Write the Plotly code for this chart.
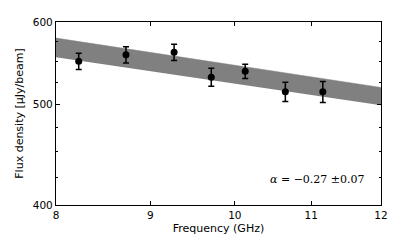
import plotly.graph_objects as go

freq = [8.23, 8.73, 9.27, 9.71, 10.13, 10.65, 11.16]
flux = [550, 558, 561, 531, 538, 514, 514]
flux_err = [10, 10, 10, 10.5, 8.5, 11, 12]

band_freq = [8, 12]
band_upper = [579, 519]
band_lower = [555, 499]

xticks = [8, 9, 10, 11, 12]
yticks = [400, 500, 600]
yminor = [425, 450, 475, 525, 550, 575]

fig = go.Figure()
fig.add_trace(go.Scatter(x=band_freq, y=band_lower, mode="lines",
                         line=dict(width=0, color="#808080"), showlegend=False, hoverinfo="skip"))
fig.add_trace(go.Scatter(x=band_freq, y=band_upper, mode="lines", fill="tonexty",
                         fillcolor="#808080", line=dict(width=0.5, color="#808080"),
                         showlegend=False, hoverinfo="skip"))
fig.add_trace(go.Scatter(x=freq, y=flux, mode="markers",
                         marker=dict(color="black", size=7),
                         error_y=dict(type="data", array=flux_err, color="black",
                                      thickness=1.5, width=3),
                         showlegend=False))

axis_font = dict(family="DejaVu Sans", size=11, color="black")
tick_font = dict(family="DejaVu Sans", size=10.5, color="black")
fig.update_layout(
    width=391, height=239,
    margin=dict(l=48, r=18, t=8, b=42),
    plot_bgcolor="white", paper_bgcolor="white",
    font=axis_font,
    xaxis=dict(type="log", range=[0.90309, 1.07918], tickvals=xticks, ticktext=[str(v) for v in xticks],
               ticks="inside", ticklen=4, tickcolor="black", showline=True, linecolor="black",
               linewidth=1.2, mirror="ticks", showgrid=False, zeroline=False,
               title=dict(text="Frequency (GHz)", font=axis_font, standoff=4), tickfont=tick_font),
    yaxis=dict(type="log", range=[2.60206, 2.77815], tickvals=yticks, ticktext=[str(v) for v in yticks],
               ticks="inside", ticklen=4, tickcolor="black", showline=True, linecolor="black",
               linewidth=1.2, mirror="ticks", showgrid=False, zeroline=False,
               minor=dict(tickvals=yminor, ticks="inside", ticklen=2, tickcolor="black", showgrid=False),
               title=dict(text="Flux density [μJy/beam]", font=axis_font, standoff=6), tickfont=tick_font),
    annotations=[dict(text="<i>α</i> = −0.27 ±0.07", xref="paper", yref="paper",
                      x=0.957, y=0.137, xanchor="right", yanchor="middle", showarrow=False,
                      font=dict(family="DejaVu Serif", size=11, color="black"))],
)
fig.write_html("out.html")
